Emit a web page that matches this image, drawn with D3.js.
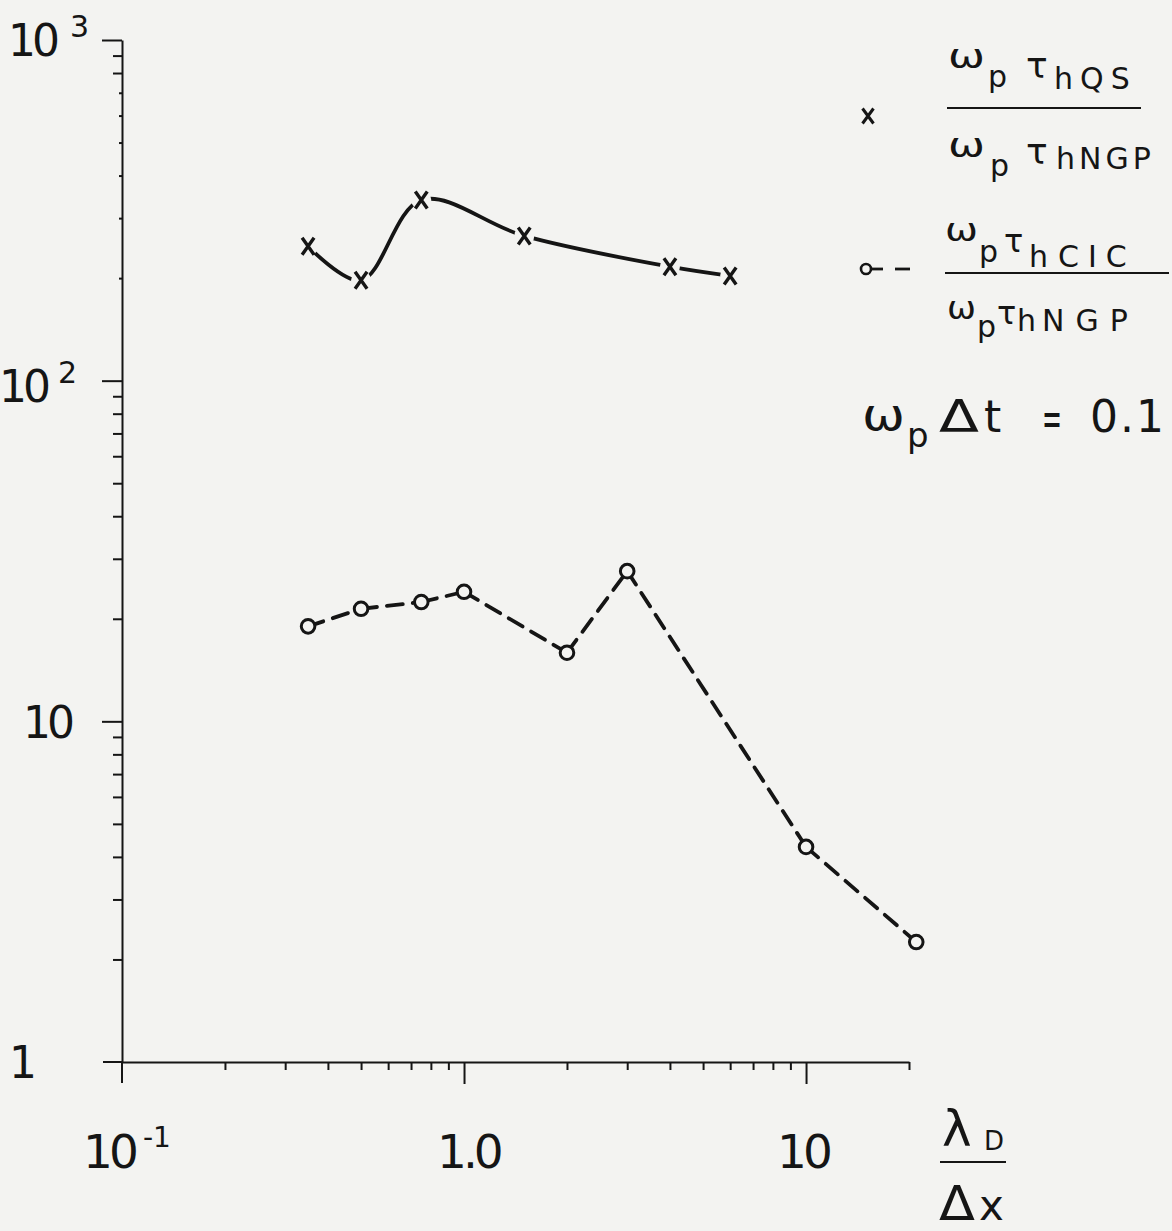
<!DOCTYPE html>
<html><head><meta charset="utf-8">
<script src="https://cdn.jsdelivr.net/npm/d3@7"></script>
<style>
body{margin:0;background:#f3f3f1}
svg{display:block}
text{font-family:"DejaVu Sans",sans-serif;fill:#151515}
</style>
</head><body>
<svg id="c" width="1172" height="1231"></svg>
<script>
// ---- data ----
const qsX = [0.35, 0.5, 0.75, 1.5, 4, 6];
const qsY = [248, 197, 339, 266, 216, 203];
const cicX = [0.35, 0.5, 0.75, 1.0, 2, 3, 10, 21];
const cicY = [19.0, 21.4, 22.4, 24.0, 15.9, 27.6, 4.28, 2.25];
const xMinorTicks = [0.2,0.3,0.4,0.5,0.6,0.7,0.8,0.9,2,3,4,5,6,7,8,9,20];
const xMajorTicks = [1, 10];
const yMinorTicks = [2,3,4,5,6,7,8,9,20,30,40,50,60,70,80,90,800,900];
const yFaintTicks = [200,300,400,500,600,700];
const yMajorTicks = [10, 100, 1000];
const xTickLabels = [{v:0.1, base:"10", sup:"-1"}, {v:1, base:"1.0", sup:""}, {v:10, base:"10", sup:""}];
const yTickLabels = [{v:1, base:"1", sup:""}, {v:10, base:"10", sup:""}, {v:100, base:"10", sup:"2"}, {v:1000, base:"10", sup:"3"}];

const BG = "#f3f3f1", INK = "#151515";
const svg = d3.select("#c");
svg.append("rect").attr("width",1172).attr("height",1231).attr("fill",BG);

const x = d3.scaleLog().domain([0.1, 20]).range([122, 909]);
const y = d3.scaleLog().domain([1, 1000]).range([1062, 40]);

// ---- axes ----
const gx = svg.append("g").attr("transform",`translate(0,${y(1)})`);
gx.call(d3.axisBottom(x).tickValues(xMinorTicks).tickSize(8).tickSizeOuter(0).tickFormat(""));
const gx2 = svg.append("g").attr("transform",`translate(0,${y(1)})`);
gx2.call(d3.axisBottom(x).tickValues(xMajorTicks).tickSize(22).tickFormat(""));
gx2.select(".domain").remove();
const gy = svg.append("g").attr("transform",`translate(${x(0.1)},0)`);
gy.call(d3.axisLeft(y).tickValues(yMinorTicks).tickSize(9).tickSizeOuter(0).tickFormat(""));
const gy2 = svg.append("g").attr("transform",`translate(${x(0.1)},0)`);
gy2.call(d3.axisLeft(y).tickValues(yMajorTicks).tickSize(20).tickFormat(""));
gy2.select(".domain").remove();
const gy3 = svg.append("g").attr("transform",`translate(${x(0.1)},0)`);
gy3.call(d3.axisLeft(y).tickValues(yFaintTicks).tickSize(3).tickFormat(""));
gy3.select(".domain").remove();
svg.selectAll(".domain").attr("stroke",INK).attr("stroke-width",2);
svg.selectAll(".tick line").attr("stroke",INK).attr("stroke-width",2);
// origin cross
svg.append("line").attr("x1",x(0.1)-19).attr("x2",x(0.1)).attr("y1",y(1)).attr("y2",y(1)).attr("stroke",INK).attr("stroke-width",2);
svg.append("line").attr("x1",x(0.1)).attr("x2",x(0.1)).attr("y1",y(1)).attr("y2",y(1)+21).attr("stroke",INK).attr("stroke-width",2);

// ---- tick labels ----
const xLabPos = {0.1:[83,1168,-4,143,1147], 1:[437,1168,-4,0,0], 10:[777,1168,-4,0,0]};
xTickLabels.forEach(d=>{
  const p = xLabPos[d.v];
  svg.append("text").attr("x",p[0]).attr("y",p[1]).attr("font-size",47).attr("letter-spacing",p[2]).text(d.base);
  if(d.sup) svg.append("text").attr("x",p[3]).attr("y",p[4]).attr("font-size",28).text(d.sup);
});
const yLabPos = {1:[9,1078,0,0,0], 10:[23,738,-4,0,0], 100:[-1,402,-4,58,383], 1000:[8,56,-4,70,37]};
yTickLabels.forEach(d=>{
  const p = yLabPos[d.v];
  svg.append("text").attr("x",p[0]).attr("y",p[1]).attr("font-size",44).attr("letter-spacing",p[2]).text(d.base);
  if(d.sup) svg.append("text").attr("x",p[3]).attr("y",p[4]).attr("font-size",30).text(d.sup);
});

// ---- series: QS (solid, smooth, x markers) ----
const qs = qsX.map((v,i)=>[v, qsY[i]]);
const cic = cicX.map((v,i)=>[v, cicY[i]]);
svg.append("path").datum(qs)
  .attr("d", d3.line().x(d=>x(d[0])).y(d=>y(d[1])).curve(d3.curveCatmullRom.alpha(0.5)))
  .attr("fill","none").attr("stroke",INK).attr("stroke-width",3.8).attr("stroke-linecap","round");
svg.selectAll(".halo").data(qs).join("circle")
  .attr("cx",d=>x(d[0])).attr("cy",d=>y(d[1])).attr("r",10).attr("fill",BG);
const xMark = "M-6,-8.5L6,8.5M6,-8.5L-6,8.5";
svg.selectAll(".xm").data(qs).join("path")
  .attr("transform",d=>`translate(${x(d[0])},${y(d[1])})`)
  .attr("d",xMark).attr("fill","none").attr("stroke",INK).attr("stroke-width",3.4);

// ---- series: CIC (dashed, circles) ----
const seg = d3.line().x(d=>x(d[0])).y(d=>y(d[1]));
for(let i=0;i<cic.length-1;i++){
  svg.append("path").datum([cic[i],cic[i+1]]).attr("d",seg)
    .attr("fill","none").attr("stroke",INK).attr("stroke-width",3.8)
    .attr("stroke-dasharray","16,10").attr("stroke-linecap","round");
}
svg.selectAll(".cm").data(cic).join("circle")
  .attr("cx",d=>x(d[0])).attr("cy",d=>y(d[1])).attr("r",6.8)
  .attr("fill",BG).attr("stroke",INK).attr("stroke-width",3);

// ---- legend ----
function T(xp, yp, size, str, ls, tl){
  const t = svg.append("text").attr("x",xp).attr("y",yp).attr("font-size",size).text(str);
  if(ls) t.attr("letter-spacing",ls);
  if(tl) t.attr("textLength",tl).attr("lengthAdjust","spacingAndGlyphs");
  return t;
}
// entry 1
svg.append("path").attr("transform","translate(868,116)").attr("d","M-5.5,-7.5L5.5,7.5M5.5,-7.5L-5.5,7.5")
  .attr("fill","none").attr("stroke",INK).attr("stroke-width",3);
T(948,68,34,"ω",0,37); T(988,87,30,"p"); T(1026,78,36,"τ"); T(1054,89,30,"hQS",7);
svg.append("line").attr("x1",947).attr("x2",1141).attr("y1",108).attr("y2",108).attr("stroke",INK).attr("stroke-width",2);
T(948,157,34,"ω",0,37); T(990,176,30,"p"); T(1026,164,36,"τ"); T(1056,169,30,"hNGP",4);
// entry 2
svg.append("circle").attr("cx",866).attr("cy",269).attr("r",5).attr("fill","none").attr("stroke",INK).attr("stroke-width",2.6);
svg.append("line").attr("x1",871).attr("x2",883).attr("y1",269).attr("y2",269).attr("stroke",INK).attr("stroke-width",2.8);
svg.append("line").attr("x1",895).attr("x2",910).attr("y1",269).attr("y2",269).attr("stroke",INK).attr("stroke-width",2.8);
T(945,241,32,"ω",0,33); T(979,262,30,"p"); T(1004,252,32,"τ"); T(1029,267,30,"h"); T(1058,267,30,"CIC",9);
svg.append("line").attr("x1",945).attr("x2",1169).attr("y1",273).attr("y2",273).attr("stroke",INK).attr("stroke-width",2);
T(947,319,32,"ω",0,29); T(977,337,30,"p"); T(997,324,32,"τ"); T(1017,331,30,"h"); T(1042,331,30,"NGP",11);
// entry 3
T(862,430,44,"ω",0,43); T(907,447,34,"p"); T(939,432,44,"Δ",0,40); T(984,432,44,"t"); T(1042,435,48,"=",0,20); T(1090,432,44,"0.1",2);

// ---- x axis title ----
T(942,1146,50,"λ"); T(984,1150,26,"D");
svg.append("line").attr("x1",940).attr("x2",1006).attr("y1",1162).attr("y2",1162).attr("stroke",INK).attr("stroke-width",2);
T(939,1220,48,"Δ",0,36); T(979,1220,42,"x");
</script>
</body></html>
